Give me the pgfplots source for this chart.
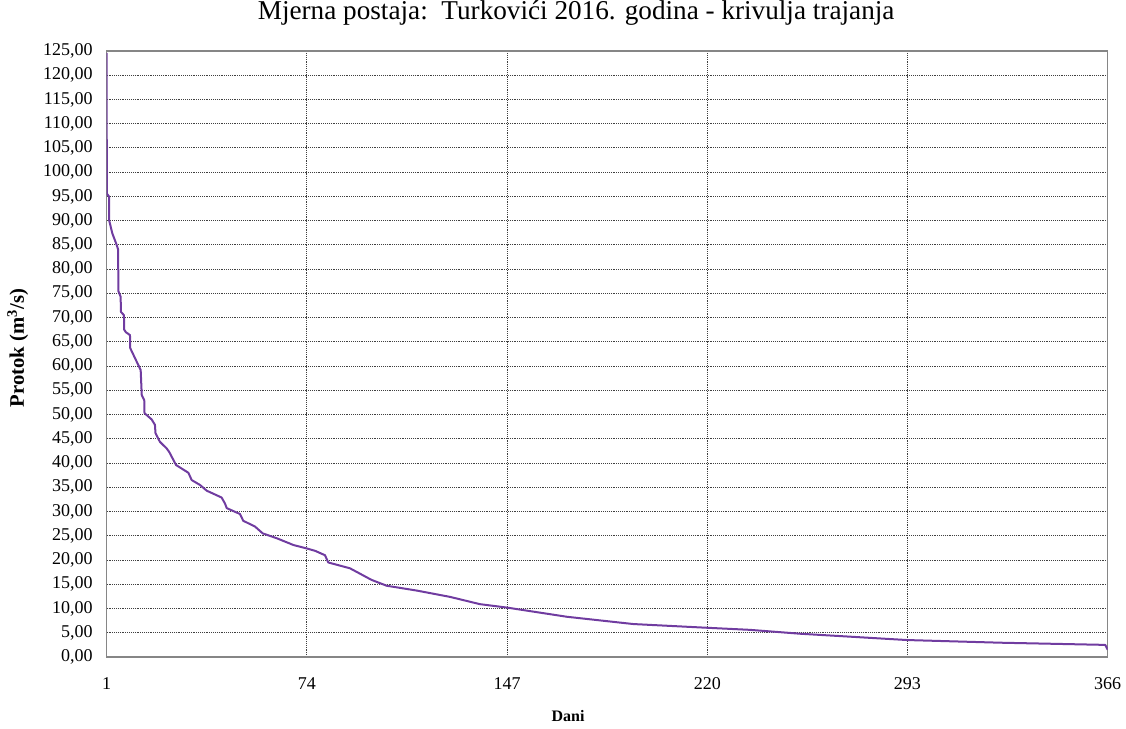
\documentclass[border=0pt]{standalone}
\usepackage{pgfplots}
\pgfplotsset{compat=1.18}
\usepackage{fontspec}
\setmainfont{Liberation Serif}
\definecolor{curve}{RGB}{112,60,160}
\definecolor{frame}{RGB}{134,134,134}
\begin{document}
\begin{tikzpicture}
\path[use as bounding box] (-80pt,-53.25pt) rectangle (764.5pt,492.75pt);
\begin{axis}[
  at={(0pt,0pt)}, anchor=south west,
  scale only axis,
  width=750.75pt, height=454.5pt,
  xmin=1, xmax=366, ymin=0, ymax=125,
  xtick={1,74,147,220,293,366},
  ytick={0,5,...,125},
  major tick length=0pt,
  grid=major,
  major grid style={line width=0.7pt, dash pattern=on 0.7pt off 0.7pt, black!75},
  axis line style={line width=1pt, frame},
  /pgf/number format/assume math mode=true,
  yticklabel={\pgfmathprintnumber[fixed,fixed zerofill,precision=2,use comma,1000 sep={}]{\tick}},
  xticklabel={\pgfmathprintnumber[fixed,precision=0,1000 sep={}]{\tick}},
  tick label style={font=\fontsize{13.5}{15}\selectfont},
  yticklabel style={xshift=-7pt},
  xticklabel style={yshift=-12pt},
  title={Mjerna postaja:\ \ Turkovići 2016. godina - krivulja trajanja},
  title style={at={(axis description cs:0.469,1.038)}, anchor=base, font=\fontsize{20.4}{23}\selectfont},
  xlabel={Dani},
  xlabel style={at={(axis description cs:0.461,-0.097)}, anchor=center, font=\fontsize{12}{14}\selectfont\bfseries},
  ylabel={Protok (m\textsuperscript{3}/s)},
  ylabel style={at={(axis description cs:-0.0887,0.51)}, anchor=center, font=\fontsize{15.5}{17}\selectfont\bfseries},
]
\addplot[curve, line width=1.5pt, line join=round] coordinates {
(1,124.6) (1.05,95.6) (1.85,95.0) (1.9,90.1) (3.05,87.4) (4.65,85.0) (5.2,84.0)
(5.25,75.5) (6.1,74.3) (6.2,71.2) (7.3,70.5) (7.4,67.5) (8.0,67.0) (9.5,66.4)
(9.6,63.7) (13.4,59.2) (13.8,54.0) (14.7,53.0) (14.8,50.3) (17.4,49.0) (18.6,47.9)
(18.8,46.2) (20.4,44.4) (22.9,43.0) (23.8,42.3) (26.3,39.6) (30.8,38.0) (32.0,36.5)
(35.0,35.5) (37.5,34.3) (42.9,32.9) (44.1,31.7) (44.8,30.7) (49.6,29.5) (50.8,28.1)
(55.1,26.9) (57.9,25.5) (63.0,24.5) (69.1,23.1) (73.9,22.4) (77.0,21.9) (80.6,21.0)
(81.8,19.5) (89.7,18.3) (93.0,17.3) (97.6,15.9) (103.1,14.7) (114.1,13.7) (126.2,12.4)
(137.1,10.9) (146.9,10.2) (168.8,8.3) (193.0,6.8) (217.4,6.1) (235.6,5.6) (253.9,4.8)
(292.8,3.5) (326.8,2.95) (365.1,2.5) (366,1.5)
};
\end{axis}
\end{tikzpicture}
\end{document}
